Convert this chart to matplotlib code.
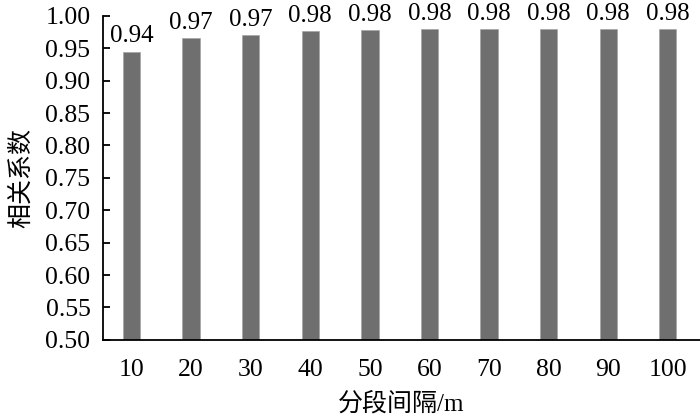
import numpy as np
import matplotlib
matplotlib.use("Agg")
import matplotlib.pyplot as plt

plt.rcParams['font.family'] = ['Liberation Serif', 'Noto Sans CJK SC']

intervals = ["10", "20", "30", "40", "50", "60", "70", "80", "90", "100"]
coef = [0.945, 0.966, 0.971, 0.976, 0.978, 0.980, 0.980, 0.980, 0.980, 0.980]
labels = ["0.94", "0.97", "0.97", "0.98", "0.98", "0.98", "0.98", "0.98", "0.98", "0.98"]

fig = plt.figure(figsize=(7, 4.18), dpi=100)
ax = fig.add_axes([0.147, 0.187, 0.853, 0.775])

x = np.arange(len(intervals))
bars = ax.bar(x, coef, width=0.29, color='#6f6f6f', edgecolor='#a0a0a0', linewidth=0.4)

for i in range(len(x)):
    ax.annotate(labels[i], (x[i], coef[i]), xytext=(0, 3), textcoords='offset points',
                ha='center', va='bottom', fontsize=18, annotation_clip=False)

ax.set_ylim(0.5, 1.0)
ax.set_xlim(-0.48, 9.54)
ax.set_yticks(np.arange(0.5, 1.001, 0.05))
ax.set_yticklabels(["%.2f" % v for v in np.arange(0.5, 1.001, 0.05)])
ax.set_xticks(x)
ax.set_xticklabels(intervals)

ax.spines['top'].set_visible(False)
ax.spines['right'].set_visible(False)
ax.spines['left'].set_linewidth(1.3)
ax.spines['bottom'].set_linewidth(1.3)
ax.tick_params(axis='y', direction='in', length=5, width=1.3, pad=9, labelsize=18.5)
ax.tick_params(axis='x', length=0, pad=14, labelsize=18.5)

ax.set_ylabel("相关系数", fontsize=18, labelpad=9)
ax.set_xlabel("分段间隔/m", fontsize=18, labelpad=8)

fig.savefig("out.png", dpi=100)
